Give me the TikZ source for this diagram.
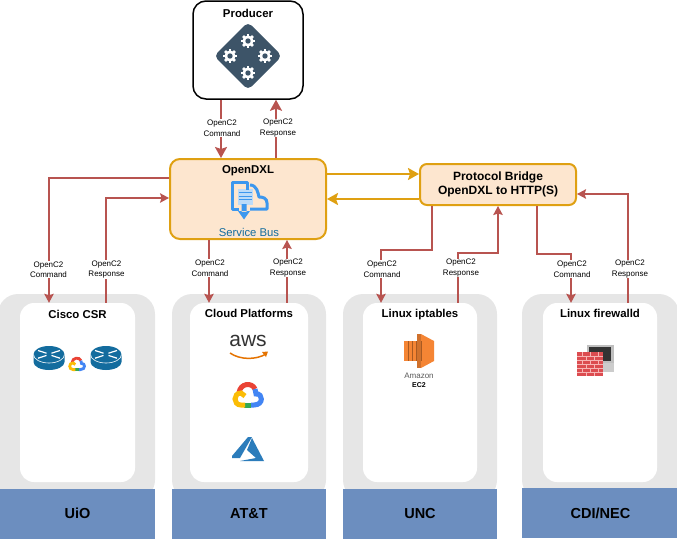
\documentclass[tikz,border=0pt]{standalone}
\usepackage{fontspec}
\setmainfont{Liberation Sans}
\usetikzlibrary{positioning, arrows.meta}

\definecolor{c2red}{HTML}{B85450}
\definecolor{dxlorange}{HTML}{DFA012}
\definecolor{dxlfill}{HTML}{FDE6CF}
\definecolor{siteblue}{HTML}{6C8EBF}
\definecolor{panelgray}{HTML}{E6E6E6}
\definecolor{slate}{HTML}{3D5468}
\definecolor{busblue}{HTML}{3C97EE}
\definecolor{routerblue}{HTML}{136C9E}
\definecolor{gred}{HTML}{EA4335}
\definecolor{gblue}{HTML}{4285F4}
\definecolor{ggreen}{HTML}{34A853}
\definecolor{gyellow}{HTML}{FBBC05}
\definecolor{azureblue}{HTML}{2B7CBB}
\definecolor{ecorange}{HTML}{F58534}
\definecolor{ecdark}{HTML}{A85A22}
\definecolor{brickred}{HTML}{DC4C50}
\definecolor{brickline}{HTML}{F7B4B4}

\tikzset{
	c2line/.style={draw=c2red, line width=1.4pt, -{Stealth[inset=1.5pt,length=9pt,width=9.5pt]}},
	c2thick/.style={c2line, line width=2pt, -{Stealth[inset=2pt,length=11pt,width=12pt]}},
	dxlline/.style={draw=dxlorange, line width=2.3pt, -{Stealth[inset=2pt,length=11pt,width=12pt]}},
	dxlbox/.style={draw=dxlorange, fill=dxlfill, line width=2pt, rounded corners=10pt, inner sep=0pt},
	panel/.style={fill=panelgray, rounded corners=20pt, minimum height=206pt, inner sep=0pt},
	whitebox/.style={fill=white, rounded corners=14pt, minimum height=179pt, inner sep=0pt},
	sitebox/.style={fill=siteblue, minimum height=50pt, inner sep=0pt, font=\fontsize{14.5}{16}\selectfont\bfseries},
	boxtitle/.style={inner sep=0pt, font=\fontsize{11.4}{13}\selectfont\bfseries},
	c2label/.style={fill=white, inner sep=0.5pt, align=center, font=\fontsize{8}{10.5}\selectfont},
}

% Icons
\newcommand{\gearicon}[2]{\begin{scope}[shift={(#1,#2)}]
	\foreach \a in {0,45,...,315}{\fill[white, rotate=\a] (-1.4,3.5) rectangle (1.4,7);}
	\fill[white] (0,0) circle (5.6);
	\fill[slate] (0,0) circle (2.7);
\end{scope}}
\newcommand{\gcloudicon}[3]{\begin{scope}[shift={(#1,#2)}, scale=#3, line width=#3*5pt]
	\draw[gred] (-9,-2) .. controls (-8,-12) and (4,-13) .. (7,-6);
	\draw[gblue] (7,-6) -- (8,-1) .. controls (15,-2) and (16,10) .. (6,10) -- (3,10);
	\draw[ggreen] (-4,10) -- (3,10);
	\draw[gyellow] (-3,10) -- (-7,10) .. controls (-15,10) and (-15,-2) .. (-7,-2) -- (-3,1);
\end{scope}}
\newcommand{\routericon}[2]{\begin{scope}[shift={(#1,#2)}]
	\fill[routerblue] (-15.5,-3.5) -- (-15.5,4) arc[start angle=180, end angle=360, x radius=15.5, y radius=-8] -- (15.5,-3.5) -- cycle;
	\fill[routerblue] (0,-3.5) ellipse (15.5 and 8.5);
	\draw[white, line width=0.6pt] (-15.5,-3.5) arc[start angle=180, end angle=360, x radius=15.5, y radius=-8.5];
	\draw[white, line width=1.2pt] (-11,-7.5) -- (-2.5,-4.8) (2.5,-2.6) -- (11,0.2) (11,-7.5) -- (2.5,-4.8) (-2.5,-2.6) -- (-11,0.2);
\end{scope}}

\begin{document}
\begin{tikzpicture}[x=1pt, y=-1pt]
	\useasboundingbox (0,0) rectangle (677,538);
	% Panels
	\node[panel, minimum width=157pt] (panel1) at (76.5,397) {};
	\node[panel, minimum width=154pt] (panel2) at (249,397) {};
	\node[panel, minimum width=154pt] (panel3) at (420,397) {};
	\node[panel, minimum width=157pt] (panel4) at (600.5,397) {};
	% Devices
	\node[whitebox, minimum width=115pt] (cisco) at (77.5,392.5) {};
	\node[whitebox, minimum width=118pt] (cloud) at (249,392.5) {};
	\node[whitebox, minimum width=114pt] (iptables) at (420,392.5) {};
	\node[whitebox, minimum width=114pt] (firewalld) at (600,392.5) {};
	\node[boxtitle, below=7pt of cisco.north] (ciscotitle) {Cisco CSR};
	\node[boxtitle, below=6pt of cloud.north] (cloudtitle) {Cloud Platforms};
	\node[boxtitle, below=6pt of iptables.north] (iptablestitle) {Linux iptables};
	\node[boxtitle, below=6pt of firewalld.north] (firewalldtitle) {Linux firewalld};
	% Sites
	\node[sitebox, minimum width=155pt] (uio) at (77.5,513.5) {UiO};
	\node[sitebox, minimum width=154pt] (att) at (249,513.5) {AT\&T};
	\node[sitebox, minimum width=154pt] (unc) at (420,513.5) {UNC};
	\node[sitebox, minimum width=157pt] (cdi) at (600.5,513) {CDI/NEC};
	% Producer
	\node[draw, line width=1.5pt, fill=white, rounded corners=13pt, minimum width=110pt, minimum height=98pt, inner sep=0pt] (producer) at (248,50) {};
	\node[boxtitle] (producertitle) at (248,13) {Producer};
	\fill[slate, rounded corners=5pt] (248,22) -- (282,56) -- (248,90) -- (214,56) -- cycle;
	\gearicon{248}{41}
	\gearicon{230}{56}
	\gearicon{265}{56}
	\gearicon{248}{73}
	% OpenDXL and bridge
	\node[dxlbox, minimum width=156pt, minimum height=80pt] (opendxl) at (248,199) {};
	\node[boxtitle] (opendxltitle) at (248,171) {OpenDXL};
	\node[inner sep=0pt, text=routerblue, font=\fontsize{11.3}{13}\selectfont] (servicebus) at (249,232) {Service Bus};
	\node[dxlbox, rounded corners=7pt, minimum width=156pt, minimum height=41pt, align=center, font=\fontsize{12}{13.5}\selectfont\bfseries] (bridge) at (498,184.5) {Protocol Bridge\\OpenDXL to HTTP(S)};
	% Service bus icon
	\fill[busblue!35] (238,189) rectangle (253,205);
	\draw[busblue, line width=3pt, line join=round] (239,209) -- (232,209) -- (232,182) -- (247,182) -- (247,190);
	\draw[busblue, line width=3pt, line join=round] (250,185) .. controls (257,185) and (258,193) .. (259,197) .. controls (263,197) and (267,198) .. (267,203) -- (267,209) -- (250,209);
	\draw[busblue, line width=1pt] (239,192.5) -- (252,192.5) (239,196) -- (252,196) (239,199.5) -- (252,199.5);
	\fill[busblue] (241.5,204) rectangle (246.5,212) (238,211) -- (250,211) -- (244,219.5) -- cycle;
	% Logos
	\routericon{49}{358}
	\routericon{106}{358}
	\gcloudicon{77}{364}{0.56}
	\node[inner sep=0pt, text=black!80, font=\fontsize{21}{21}\selectfont] (awslogo) at (248,341) {aws};
	\draw[orange!90!black, line width=1.5pt] (230,353) .. controls (240,360) and (256,360) .. (266,354);
	\fill[orange!90!black] (262,352) -- (268,351.5) -- (266,357) -- cycle;
	\gcloudicon{248}{395}{1}
	\fill[azureblue] (248,437) -- (232,456) -- (232,458) -- (240,458) -- (252,437) -- cycle;
	\fill[azureblue] (252,438) -- (264,461) -- (240,461) -- (256,458) -- (247,450) -- cycle;
	% EC2 logo
	\fill[ecorange] (404,341) rectangle (421,361);
	\fill[ecorange] (421,334) -- (434,341) -- (434,361) -- (421,368) -- cycle;
	\fill[ecorange!85!black] (417,334) rectangle (421,368);
	\foreach \bx in {408,412,416.5,421}{\draw[ecdark, line width=0.7pt] (\bx,341) -- (\bx,361);}
	\node[inner sep=0pt, text=black!65, font=\fontsize{8}{8}\selectfont] (amazon) at (419,376) {Amazon};
	\node[inner sep=0pt, font=\fontsize{7}{7}\selectfont\bfseries] (ectwo) at (419,385) {EC2};
	% Firewall logo
	\fill[black!25] (587,345) rectangle (614,363);
	\fill[black!80] (589,347) rectangle (611,361);
	\fill[black!20] (600,363) rectangle (614,372);
	\fill[brickred] (577,352) rectangle (603,376);
	\foreach \by in {356,360,364,368,372}{\draw[brickline, line width=0.5pt] (577,\by) -- (603,\by);}
	\foreach \bx in {582,590,598}{\draw[brickline, line width=0.5pt] (\bx,352) -- (\bx,356) (\bx,360) -- (\bx,364) (\bx,368) -- (\bx,372);}
	\foreach \bx in {586,594}{\draw[brickline, line width=0.5pt] (\bx,356) -- (\bx,360) (\bx,364) -- (\bx,368) (\bx,372) -- (\bx,376);}
	% Arrows producer
	\draw[c2thick] ([xshift=-27pt]producer.south) -- ([xshift=-27pt]opendxl.north);
	\draw[c2thick] ([xshift=28pt]opendxl.north) -- ([xshift=28pt]producer.south);
	% Arrows OpenDXL to bridge
	\draw[dxlline] ([yshift=25pt]opendxl.east) -- ([yshift=25pt]opendxl.east -| bridge.west);
	\draw[dxlline] (opendxl.east -| bridge.west) -- (opendxl.east);
	% Arrows Cisco
	\draw[c2line] ([yshift=21pt]opendxl.west) -| ([xshift=-28.5pt]cisco.north);
	\draw[c2line] ([xshift=28.5pt]cisco.north) |- ([yshift=1pt]opendxl.west);
	% Arrows cloud
	\draw[c2line] ([xshift=-40pt]cloud.north |- opendxl.south) -- ([xshift=-40pt]cloud.north);
	\draw[c2line] ([xshift=38pt]cloud.north) -- ([xshift=38pt]cloud.north |- opendxl.south);
	% Arrows iptables
	\draw[c2line] ([xshift=-66pt]bridge.south) -- ++(0,44) -| ([xshift=-39pt]iptables.north);
	\draw[c2line] ([xshift=38pt]iptables.north) -- ++(0,-50) -| (bridge.south);
	% Arrows firewalld
	\draw[c2line] ([xshift=39pt]bridge.south) -- ++(0,48) -| ([xshift=-29pt]firewalld.north);
	\draw[c2line] ([xshift=28pt]firewalld.north) |- ([yshift=-9.5pt]bridge.east);
	% Labels
	\node[c2label] (cmdproducer) at (222,128) {OpenC2\\Command};
	\node[c2label] (resproducer) at (278,128) {OpenC2\\Response};
	\node[c2label] (cmdcisco) at (48.5,269.5) {OpenC2\\Command};
	\node[c2label] (rescisco) at (106.5,269.5) {OpenC2\\Response};
	\node[c2label] (cmdcloud) at (210,268) {OpenC2\\Command};
	\node[c2label] (rescloud) at (288,268) {OpenC2\\Response};
	\node[c2label] (cmdiptables) at (382,269) {OpenC2\\Command};
	\node[c2label] (resiptables) at (461,268) {OpenC2\\Response};
	\node[c2label] (cmdfirewalld) at (572,269) {OpenC2\\Command};
	\node[c2label] (resfirewalld) at (630,269) {OpenC2\\Response};
\end{tikzpicture}
\end{document}
